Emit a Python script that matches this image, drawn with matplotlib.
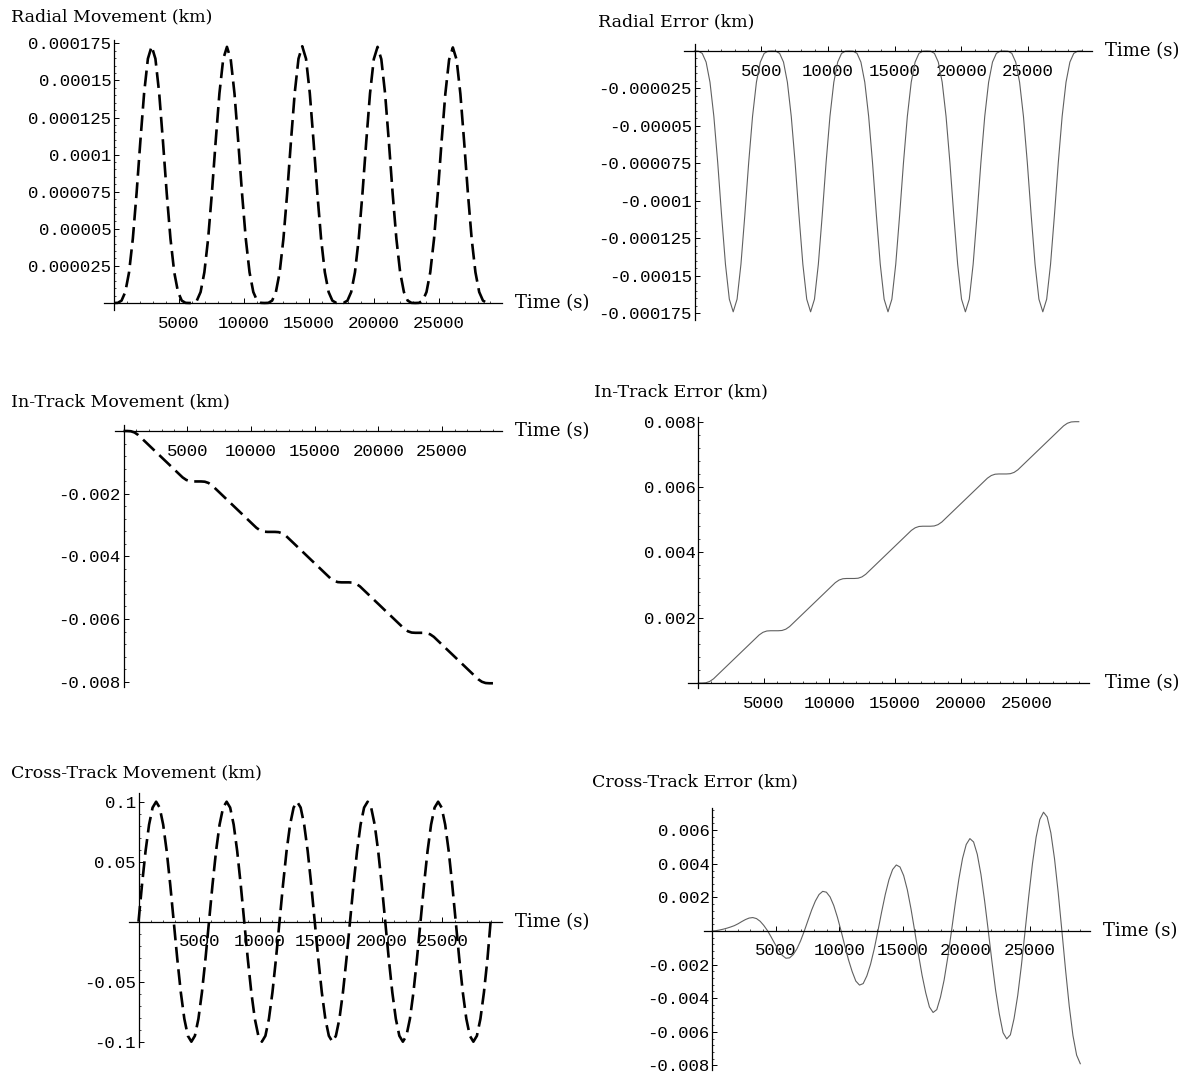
import matplotlib.pyplot as plt
import numpy as np
from matplotlib.ticker import FixedLocator, FixedFormatter, MultipleLocator

W, H = 1197, 1076
plt.rcParams["font.family"] = "Liberation Mono"

# sample times (s): five orbits, 20 samples per orbit
time_s = np.arange(0, 29001, 290)

# radial movement (1e-6 km)
radial_move = [
    0, 0.1, 1.6, 7.4, 20.7, 43.3, 74.1, 109.0, 141.5, 164.6, 173.0, 164.6, 141.5, 109.0, 74.1, 43.3, 20.7, 7.4, 1.6, 0.1,
    0, 0.1, 1.6, 7.4, 20.7, 43.3, 74.1, 108.8, 141.2, 164.3, 172.6, 164.3, 141.2, 108.8, 74.1, 43.3, 20.7, 7.4, 1.6, 0.1,
    0, 0.1, 1.6, 7.4, 20.7, 43.3, 74.1, 109.0, 141.5, 164.6, 173.0, 164.6, 141.5, 109.0, 74.1, 43.3, 20.7, 7.4, 1.6, 0.1,
    0, 0.1, 1.6, 7.4, 20.7, 43.3, 74.1, 108.8, 141.2, 164.3, 172.6, 164.3, 141.2, 108.8, 74.1, 43.3, 20.7, 7.4, 1.6, 0.1,
    0, 0.1, 1.6, 7.4, 20.7, 43.2, 73.9, 108.6, 140.9, 163.9, 172.2, 163.9, 140.9, 108.6, 73.9, 43.2, 20.7, 7.4, 1.6, 0.1,
    0,
]

# radial error (1e-6 km)
radial_err = [
    0, -0.1, -1.6, -7.4, -20.8, -43.6, -74.5, -109.7, -142.3, -165.6, -174.0, -165.6, -142.3, -109.7, -74.5, -43.6, -20.8, -7.4, -1.6, -0.1,
    0, -0.1, -1.6, -7.4, -20.8, -43.6, -74.5, -109.7, -142.3, -165.6, -174.0, -165.6, -142.3, -109.7, -74.5, -43.6, -20.8, -7.4, -1.6, -0.1,
    0, -0.1, -1.6, -7.4, -20.8, -43.6, -74.5, -109.7, -142.3, -165.6, -174.0, -165.6, -142.3, -109.7, -74.5, -43.6, -20.8, -7.4, -1.6, -0.1,
    0, -0.1, -1.6, -7.4, -20.8, -43.6, -74.5, -109.7, -142.3, -165.6, -174.0, -165.6, -142.3, -109.7, -74.5, -43.6, -20.8, -7.4, -1.6, -0.1,
    0, -0.1, -1.6, -7.4, -20.8, -43.6, -74.5, -109.7, -142.3, -165.6, -174.0, -165.6, -142.3, -109.7, -74.5, -43.6, -20.8, -7.4, -1.6, -0.1,
    0,
]

# in-track movement (1e-3 km)
intrack_move = [
    0, 0, -0.008, -0.048, -0.129, -0.242, -0.354, -0.467, -0.580, -0.692, -0.805, -0.918, -1.030, -1.143, -1.256, -1.369, -1.481, -1.562, -1.602, -1.610,
    -1.610, -1.610, -1.618, -1.658, -1.739, -1.852, -1.964, -2.077, -2.190, -2.302, -2.415, -2.528, -2.640, -2.753, -2.866, -2.979, -3.091, -3.172, -3.212, -3.220,
    -3.220, -3.220, -3.228, -3.268, -3.349, -3.462, -3.574, -3.687, -3.800, -3.912, -4.025, -4.138, -4.250, -4.363, -4.476, -4.589, -4.701, -4.782, -4.822, -4.830,
    -4.830, -4.830, -4.838, -4.878, -4.959, -5.072, -5.184, -5.297, -5.410, -5.522, -5.635, -5.748, -5.860, -5.973, -6.086, -6.199, -6.311, -6.392, -6.432, -6.440,
    -6.440, -6.440, -6.448, -6.488, -6.569, -6.682, -6.794, -6.907, -7.020, -7.132, -7.245, -7.358, -7.470, -7.583, -7.696, -7.809, -7.921, -8.002, -8.042, -8.050,
    -8.050,
]

# in-track error (1e-3 km)
intrack_err = [
    0, 0, 0.008, 0.048, 0.128, 0.240, 0.352, 0.464, 0.576, 0.688, 0.800, 0.912, 1.024, 1.136, 1.248, 1.360, 1.472, 1.552, 1.592, 1.600,
    1.600, 1.600, 1.608, 1.648, 1.728, 1.840, 1.952, 2.064, 2.176, 2.288, 2.400, 2.512, 2.624, 2.736, 2.848, 2.960, 3.072, 3.152, 3.192, 3.200,
    3.200, 3.200, 3.208, 3.248, 3.328, 3.440, 3.552, 3.664, 3.776, 3.888, 4.000, 4.112, 4.224, 4.336, 4.448, 4.560, 4.672, 4.752, 4.792, 4.800,
    4.800, 4.800, 4.808, 4.848, 4.928, 5.040, 5.152, 5.264, 5.376, 5.488, 5.600, 5.712, 5.824, 5.936, 6.048, 6.160, 6.272, 6.352, 6.392, 6.400,
    6.400, 6.400, 6.408, 6.448, 6.528, 6.640, 6.752, 6.864, 6.976, 7.088, 7.200, 7.312, 7.424, 7.536, 7.648, 7.760, 7.872, 7.952, 7.992, 8.000,
    8.000,
]

# cross-track movement (km)
cross_move = [
    0, 0.0309, 0.0588, 0.0809, 0.0951, 0.1, 0.0951, 0.0809, 0.0588, 0.0309, 0, -0.0309, -0.0588, -0.0809, -0.0951, -0.1, -0.0951, -0.0809, -0.0588, -0.0309,
    0, 0.0309, 0.0588, 0.0809, 0.0951, 0.1, 0.0951, 0.0809, 0.0588, 0.0309, 0, -0.0309, -0.0588, -0.0809, -0.0951, -0.1, -0.0951, -0.0809, -0.0588, -0.0309,
    0, 0.0309, 0.0588, 0.0809, 0.0951, 0.1, 0.0951, 0.0809, 0.0588, 0.0309, 0, -0.0309, -0.0588, -0.0809, -0.0951, -0.1, -0.0951, -0.0809, -0.0588, -0.0309,
    0, 0.0309, 0.0588, 0.0809, 0.0951, 0.1, 0.0951, 0.0809, 0.0588, 0.0309, 0, -0.0309, -0.0588, -0.0809, -0.0951, -0.1, -0.0951, -0.0809, -0.0588, -0.0309,
    0, 0.0309, 0.0588, 0.0809, 0.0951, 0.1, 0.0951, 0.0809, 0.0588, 0.0309, 0, -0.0309, -0.0588, -0.0809, -0.0951, -0.1, -0.0951, -0.0809, -0.0588, -0.0309,
    0.004,
]

# cross-track error (1e-3 km)
cross_err = [
    0, 0.02, 0.06, 0.11, 0.17, 0.24, 0.32, 0.43, 0.56, 0.68, 0.77, 0.80, 0.74, 0.58, 0.33, 0.02, -0.36, -0.76, -1.13, -1.45,
    -1.62, -1.60, -1.40, -1.06, -0.58, 0.00, 0.63, 1.25, 1.78, 2.17, 2.36, 2.31, 2.03, 1.52, 0.82, 0.00, -0.87, -1.71, -2.41, -2.98,
    -3.22, -3.13, -2.67, -1.98, -1.07, 0.00, 1.12, 2.17, 3.05, 3.66, 3.93, 3.81, 3.30, 2.45, 1.31, 0.00, -1.36, -2.63, -3.68, -4.52,
    -4.85, -4.68, -3.94, -2.91, -1.55, 0.00, 1.60, 3.09, 4.32, 5.15, 5.50, 5.30, 4.57, 3.37, 1.79, 0.00, -1.84, -3.55, -4.95, -6.05,
    -6.42, -6.18, -5.21, -3.83, -2.04, 0.00, 2.09, 4.01, 5.59, 6.64, 7.07, 6.79, 5.84, 4.29, 2.28, 0.00, -2.33, -4.48, -6.22, -7.39,
    -7.90,
]

time_ticks = [5000, 10000, 15000, 20000, 25000]
time_labels = ["5000", "10000", "15000", "20000", "25000"]

fig = plt.figure(figsize=(W / 100, H / 100), dpi=100)
fig.patch.set_facecolor("white")


def make_panel(x0, xs, y0, ys, xlim, ylim, yticks, ylabels, yminor):
    # x0/y0: pixel of the origin, xs/ys: pixels per data unit
    left = x0 + xlim[0] * xs
    right = x0 + xlim[1] * xs
    top = y0 - ylim[1] * ys
    bottom = y0 - ylim[0] * ys
    ax = fig.add_axes([left / W, 1 - bottom / H, (right - left) / W, (bottom - top) / H])
    ax.set_xlim(xlim)
    ax.set_ylim(ylim)
    ax.patch.set_alpha(0)
    ax.spines["top"].set_visible(False)
    ax.spines["right"].set_visible(False)
    ax.spines["left"].set_position(("data", 0))
    ax.spines["bottom"].set_position(("data", 0))
    for s in ("left", "bottom"):
        ax.spines[s].set_linewidth(0.9)
    ax.xaxis.set_major_locator(FixedLocator(time_ticks))
    ax.xaxis.set_major_formatter(FixedFormatter(time_labels))
    ax.xaxis.set_minor_locator(MultipleLocator(1000))
    ax.yaxis.set_major_locator(FixedLocator(yticks))
    ax.yaxis.set_major_formatter(FixedFormatter(ylabels))
    ax.yaxis.set_minor_locator(MultipleLocator(yminor))
    ax.tick_params(which="major", direction="in", length=3.5, width=0.7, labelsize=12.5)
    ax.tick_params(which="minor", direction="in", length=1.5, width=0.5)
    ax.tick_params(axis="x", which="major", pad=9)
    ax.tick_params(axis="y", which="major", pad=2)
    return ax


def label(x, y, s, size=12.5):
    fig.text(x / W, 1 - y / H, s, family="DejaVu Serif", fontsize=size, va="center", ha="left")


move_style = dict(color="black", lw=1.9, ls=(0, (6, 2.5)), dash_capstyle="butt")
err_style = dict(color="#606060", lw=0.8)

# Radial movement
ax = make_panel(114, 75.3 / 5800, 303, 259.7 / 0.000175, (-800, 29900), (-0.0000047, 0.000177),
                [0.000025, 0.00005, 0.000075, 0.0001, 0.000125, 0.00015, 0.000175],
                ["0.000025", "0.00005", "0.000075", "0.0001", "0.000125", "0.00015", "0.000175"], 0.000005)
ax.plot(time_s, np.array(radial_move) * 1e-6, **move_style)
label(11, 17, "Radial Movement (km)")
label(515, 303, "Time (s)", 13)

# Radial error
ax = make_panel(694.5, 77.4 / 5800, 51, 262.3 / 0.000175, (-790, 29780), (-0.0001795, 0.0000045),
                [-0.000025, -0.00005, -0.000075, -0.0001, -0.000125, -0.00015, -0.000175],
                ["-0.000025", "-0.00005", "-0.000075", "-0.0001", "-0.000125", "-0.00015", "-0.000175"], 0.000005)
ax.plot(time_s, np.array(radial_err) * 1e-6, **err_style)
label(598, 22, "Radial Error (km)")
label(1105, 51, "Time (s)", 13)

# In-track movement
ax = make_panel(123.5, 63.7 / 5000, 431, 250.7 / 0.008, (-700, 29700), (-0.00816, 0.00019),
                [-0.002, -0.004, -0.006, -0.008], ["-0.002", "-0.004", "-0.006", "-0.008"], 0.0004)
ax.plot(time_s, np.array(intrack_move) * 1e-3, **move_style)
label(11, 402, "In-Track Movement (km)")
label(515, 431, "Time (s)", 13)

# In-track error
ax = make_panel(698.3, 65.6 / 5000, 683, 261.3 / 0.008, (-800, 29800), (-0.00016, 0.00815),
                [0.002, 0.004, 0.006, 0.008], ["0.002", "0.004", "0.006", "0.008"], 0.0004)
ax.plot(time_s, np.array(intrack_err) * 1e-3, **err_style)
label(594, 392, "In-Track Error (km)")
label(1105, 683, "Time (s)", 13)

# Cross-track movement
ax = make_panel(138.5, 70.5 / 5800, 921.7, 1200, (-800, 29900), (-0.104, 0.107),
                [0.1, 0.05, -0.05, -0.1], ["0.1", "0.05", "-0.05", "-0.1"], 0.01)
ax.plot(time_s, cross_move, **move_style)
label(11, 773, "Cross-Track Movement (km)")
label(515, 922, "Time (s)", 13)

# Cross-track error
ax = make_panel(712.3, 73.6 / 5800, 931, 16800, (-690, 29760), (-0.00827, 0.0073),
                [0.006, 0.004, 0.002, -0.002, -0.004, -0.006, -0.008],
                ["0.006", "0.004", "0.002", "-0.002", "-0.004", "-0.006", "-0.008"], 0.0004)
ax.plot(time_s, np.array(cross_err) * 1e-3, **err_style)
label(592, 782, "Cross-Track Error (km)")
label(1103, 931, "Time (s)", 13)

fig.savefig("out.png", dpi=100)
